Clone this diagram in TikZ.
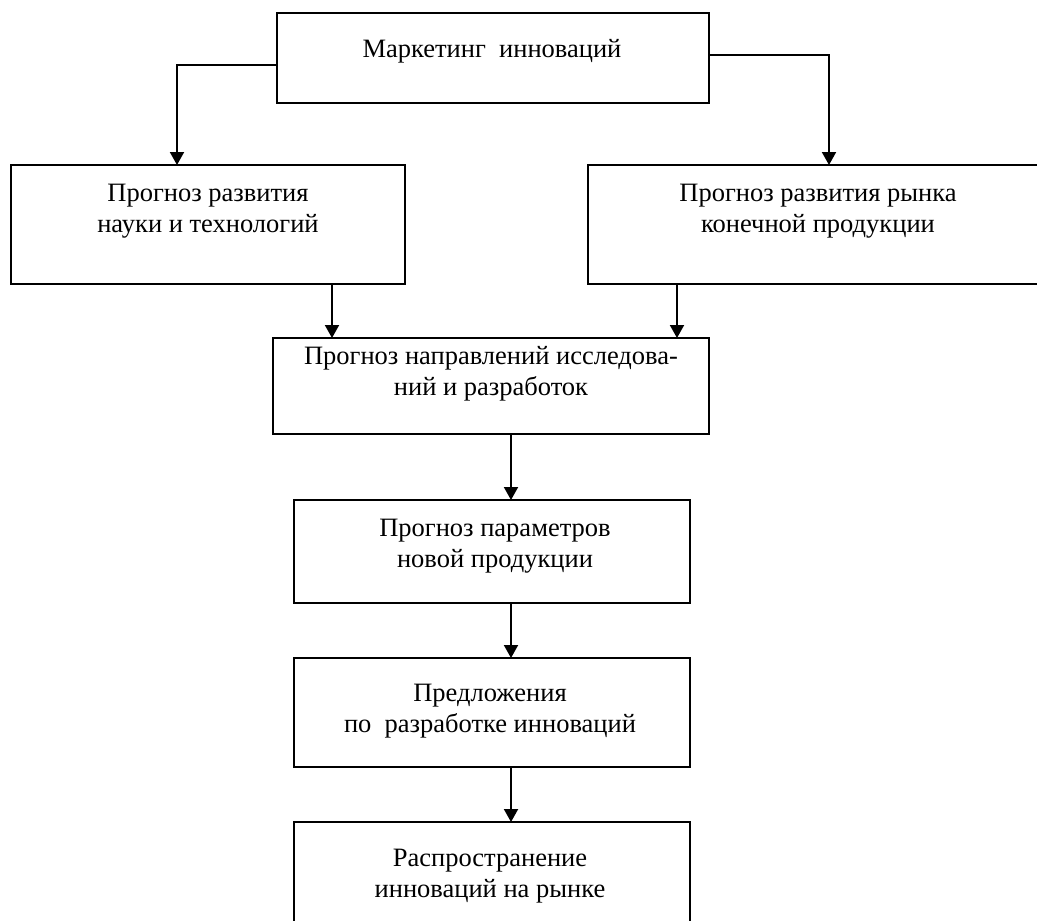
\documentclass[tikz,border=0pt]{standalone}
\usepackage{fontspec}
\setmainfont{Liberation Serif}
\usetikzlibrary{arrows.meta}
\tikzset{
  box/.style={draw=black, line width=2.4pt, inner sep=0pt, outer sep=0pt, rectangle},
  txt/.style={inner sep=0pt, align=center, anchor=base, font=\fontsize{26.5}{31}\selectfont},
  arr/.style={line width=2pt, -{Triangle[length=13pt,width=14pt]}}
}
\begin{document}
\begin{tikzpicture}[x=1pt,y=-1pt]
\useasboundingbox (0,0) rectangle (1037,921);
% boxes
\node[box, minimum width=432pt, minimum height=90pt] (b1) at (493,58) {};
\node[box, minimum width=394pt, minimum height=119pt] (bl) at (208,224.5) {};
\node[box, minimum width=460pt, minimum height=119pt] (br) at (818,224.5) {};
\node[box, minimum width=436pt, minimum height=96pt] (b3) at (491,386) {};
\node[box, minimum width=396pt, minimum height=103pt] (b4) at (492,551.5) {};
\node[box, minimum width=396pt, minimum height=109pt] (b5) at (492,712.5) {};
\node[box, minimum width=396pt, minimum height=128pt] (b6) at (492,886) {};
% texts (anchor = baseline of the last line)
\node[txt] (t1) at (492,57) {Маркетинг\ \ инноваций};
\node[txt] (tl) at (208,232) {Прогноз развития\\науки и технологий};
\node[txt] (tr) at (818,232) {Прогноз развития рынка\\конечной продукции};
\node[txt] (t3) at (491,395) {Прогноз направлений исследова-\\ний и разработок};
\node[txt] (t4) at (495,567) {Прогноз параметров\\новой продукции};
\node[txt] (t5) at (490,732) {Предложения\\по\ \ разработке инноваций};
\node[txt] (t6) at (490,897) {Распространение\\инноваций на рынке};
% connectors
\draw[arr] (b1.west |- 0,65) -| (bl.north -| 177,0);
\draw[arr] (b1.east |- 0,55) -| (br.north -| 829,0);
\draw[arr] (bl.south -| 332,0) -- (b3.north -| 332,0);
\draw[arr] (br.south -| 677,0) -- (b3.north -| 677,0);
\draw[arr] (b3.south -| 511,0) -- (b4.north -| 511,0);
\draw[arr] (b4.south -| 511,0) -- (b5.north -| 511,0);
\draw[arr] (b5.south -| 511,0) -- (b6.north -| 511,0);
\end{tikzpicture}
\end{document}
